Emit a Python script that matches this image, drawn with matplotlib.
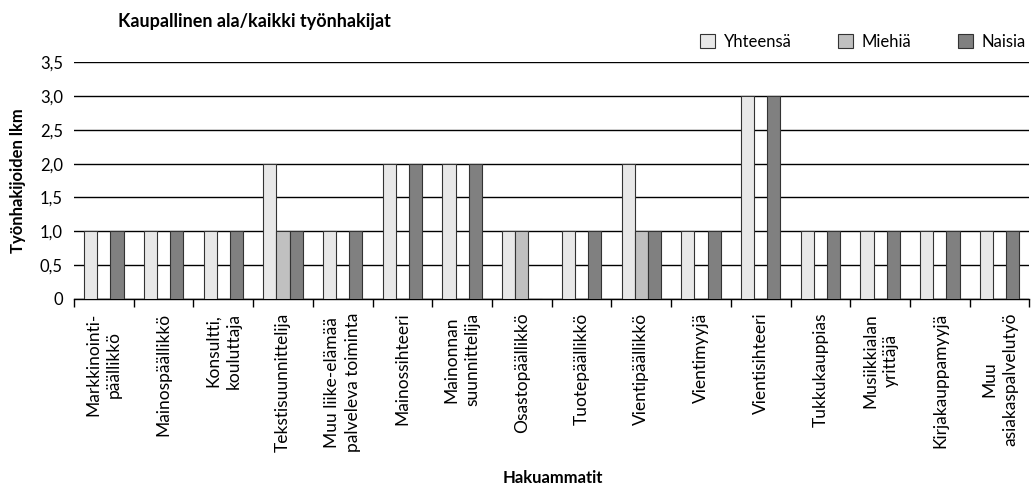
import matplotlib
matplotlib.use("Agg")
import matplotlib.pyplot as plt
import numpy as np

categories = ["Markkinointi-\npäällikkö", "Mainospäällikkö", "Konsultti,\nkouluttaja",
              "Tekstisuunnittelija", "Muu liike-elämää\npalveleva toiminta", "Mainossihteeri",
              "Mainonnan\nsuunnittelija", "Osastopäällikkö", "Tuotepäällikkö",
              "Vientipäällikkö", "Vientimyyjä", "Vientisihteeri", "Tukkukauppias",
              "Musiikkialan\nyrittäjä", "Kirjakauppamyyjä", "Muu\nasiakaspalvelutyö"]
yhteensa = [1, 1, 1, 2, 1, 2, 2, 1, 1, 2, 1, 3, 1, 1, 1, 1]
miehia = [0, 0, 0, 1, 0, 0, 0, 1, 0, 1, 0, 0, 0, 0, 0, 0]
naisia = [1, 1, 1, 1, 1, 2, 2, 0, 1, 1, 1, 3, 1, 1, 1, 1]
series_names = ["Yhteensä", "Miehiä", "Naisia"]
yticks = [0, 0.5, 1.0, 1.5, 2.0, 2.5, 3.0, 3.5]
ytick_labels = ["0", "0,5", "1,0", "1,5", "2,0", "2,5", "3,0", "3,5"]

plt.rcParams['font.family'] = ['Lato', 'DejaVu Sans']
fig = plt.figure(figsize=(10.33, 4.86), dpi=100)
ax = fig.add_axes([0.0716, 0.385, 0.925, 0.487])

x = np.arange(len(categories)) + 0.5
w = 0.22
colors = ["#e8e8e8", "#c0c0c0", "#808080"]
for i, (vals, name, c) in enumerate(zip([yhteensa, miehia, naisia], series_names, colors)):
    ax.bar(x + (i - 1) * w, vals, width=w, color=c, edgecolor="#333333", linewidth=0.8,
           label=name, zorder=3)

ax.set_xlim(0, len(categories))
ax.set_ylim(0, 3.5)
ax.set_yticks(yticks)
ax.set_yticklabels(ytick_labels, fontsize=12)
ax.yaxis.grid(True, color="black", linewidth=1.0, zorder=0)
ax.tick_params(axis='y', length=0, pad=8)
for s in ["left", "right", "top"]:
    ax.spines[s].set_visible(False)
ax.spines["bottom"].set_linewidth(1.0)

ax.set_xticks(np.arange(len(categories) + 1), minor=False)
ax.set_xticklabels([])
ax.tick_params(axis='x', which='major', direction='out', length=6, width=1)
ax.set_xticks(x, minor=True)
ax.set_xticklabels(categories, minor=True, rotation=90, fontsize=12.5,
                   va='top', ha='center', multialignment='center', linespacing=1.35)
ax.tick_params(axis='x', which='minor', length=0, pad=10)

ax.set_ylabel("Työnhakijoiden lkm", fontsize=12, fontweight='bold', labelpad=10)
fig.text(0.535, 0.006, "Hakuammatit", fontsize=12, fontweight='bold', ha='center')
fig.text(0.114, 0.945, "Kaupallinen ala/kaikki työnhakijat", fontsize=13, fontweight='bold')

leg = ax.legend(loc='lower right', bbox_to_anchor=(1.003, 1.025), ncol=3, frameon=False,
                fontsize=12, handlelength=0.9, handleheight=0.9, columnspacing=2.8,
                handletextpad=0.5, borderaxespad=0)

fig.savefig("out.png", dpi=100)
